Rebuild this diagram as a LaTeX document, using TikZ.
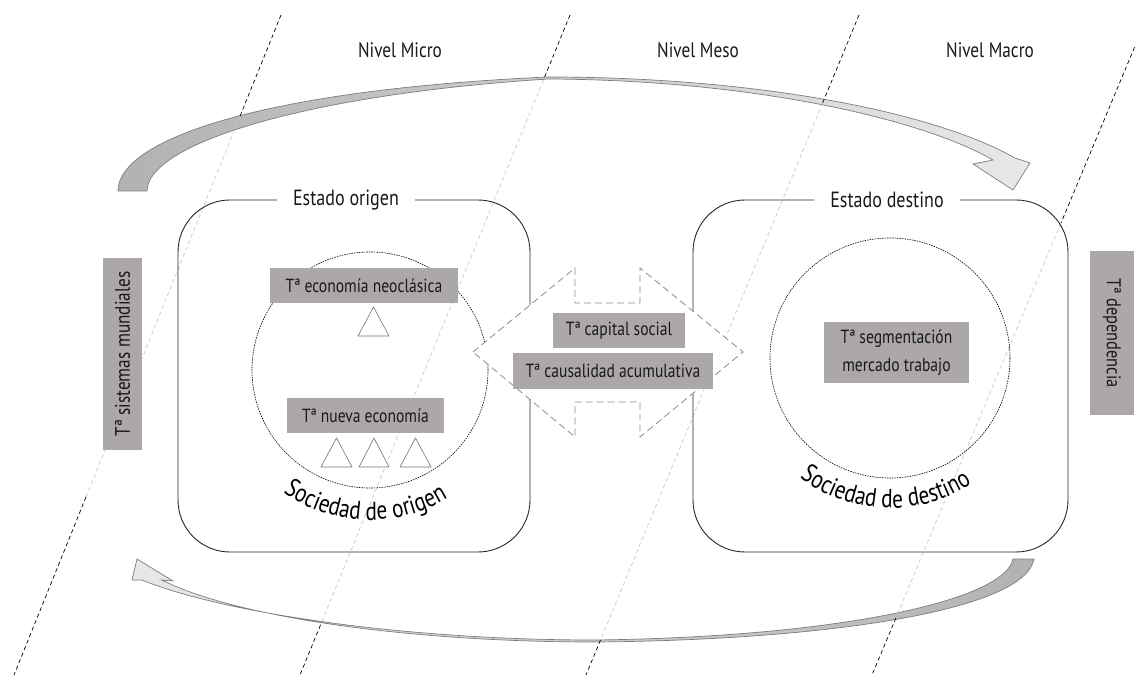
\documentclass[tikz,border=0pt]{standalone}
\usepackage{fontspec}
\setmainfont{PT Sans}[FakeStretch=0.82]
\usetikzlibrary{decorations.text}
\definecolor{labelgray}{RGB}{172,168,167}
\definecolor{arrowline}{RGB}{125,125,125}
\definecolor{arrowdark}{RGB}{178,178,178}
\definecolor{arrowlight}{RGB}{232,232,232}
\definecolor{guidegray}{RGB}{200,200,200}
\begin{document}
\begin{tikzpicture}[x=1pt,y=1pt,
  theory/.style={fill=labelgray, inner sep=0pt, font=\fontsize{19}{28}\selectfont, text=black!90},
  level/.style={font=\fontsize{21}{24}\selectfont, text=black!90},
  statelabel/.style={fill=white, inner xsep=16pt, inner ysep=2pt, font=\fontsize{22}{24}\selectfont, text=black!90},
  frame/.style={draw=black!85, line width=0.9pt, rounded corners=52pt, minimum width=#1, minimum height=352pt, inner sep=0pt},
  society/.style={draw=black, line width=0.6pt, dash pattern=on 1.5pt off 1pt, circle, minimum size=#1, inner sep=0pt},
  guide/.style={line width=0.7pt, dash pattern=on 4pt off 3pt, black},
  guidefaint/.style={line width=0.7pt, dash pattern=on 4pt off 3pt, guidegray},
  flow/.style={draw=arrowline, line width=0.7pt},
  tri/.style={draw=black!55, line width=0.6pt, fill=white},
  bridge/.style={draw=black!45, fill=white, line width=0.8pt, dash pattern=on 7pt off 4pt},
  curvedtext/.style={decorate, decoration={text along path, text align=center, text={|\fontsize{26}{26}\selectfont|#1}}},
]
\useasboundingbox (0,0) rectangle (1135,675);
\begin{scope}
\clip (0,0) rectangle (1135,675);

% curved flows between the two states
\path[flow, left color=arrowdark, right color=arrowlight]
  (118,484) .. controls (118,535) and (260,585) .. (548,598)
  .. controls (750,598) and (930,565) .. (1015,517)
  -- (1030,512) -- (1013,485) -- (973,511) -- (993,515)
  .. controls (920,557) and (750,595) .. (548,596)
  .. controls (300,580) and (147,530) .. (147,484) -- cycle;
\path[flow, left color=arrowlight, right color=arrowdark]
  (1034,116) .. controls (1025,65) and (830,35) .. (595,33)
  .. controls (400,33) and (230,60) .. (162,95)
  -- (173,94) -- (137,116) -- (132,95) -- (142,95)
  .. controls (220,63) and (400,35) .. (595,35)
  .. controls (840,38) and (1005,75) .. (1013,116) -- cycle;

% oblique level dividers
\coordinate (g1t) at (281,660);  \coordinate (g1a) at (239.7,558);
\coordinate (g1b) at (86,178);   \coordinate (g1e) at (14,0);
\coordinate (g2t) at (570,660);  \coordinate (g2a) at (543.4,595);
\coordinate (g2b) at (320.5,50); \coordinate (g2e) at (300,0);
\coordinate (g3t) at (859,660);  \coordinate (g3a) at (822.6,572);
\coordinate (g3b) at (600.5,35); \coordinate (g3e) at (586,0);
\coordinate (g4t) at (1148,660); \coordinate (g4a) at (1061,452);
\coordinate (g4b) at (895.9,57); \coordinate (g4e) at (872,0);
\foreach \g in {g1,g2,g3,g4}{
  \draw[guide] (\g t) -- (\g a);
  \draw[guidefaint] (\g a) -- (\g b);
  \draw[guide] (\g b) -- (\g e);
}
\end{scope}

% level headings
\node[level] (micro) at (400,625) {Nivel Micro};
\node[level] (meso) at (698,625) {Nivel Meso};
\node[level] (macro) at (990,625) {Nivel Macro};

% states
\node[frame=352pt] (origin) at (354,299) {};
\node[frame=375pt] (dest) at (880.5,299) {};
\node[statelabel] (eo) at (346,475) {Estado origen};
\node[statelabel] (ed) at (887,475) {Estado destino};

% societies
\node[society=236pt] (so) at (370,305) {};
\node[society=240pt] (sd) at (890,317) {};

% bridge between societies
\draw[bridge] (473,323) -- (575,407) -- (575,372) -- (640,372) -- (640,407)
  -- (743,323) -- (640,238) -- (640,273) -- (575,273) -- (575,238) -- cycle;

% theories
\node[theory, minimum width=188pt, minimum height=35pt] (neo) at (364,389.5) {Tª economía neoclásica};
\node[theory, minimum width=157pt, minimum height=35pt] (nueva) at (365.5,259.5) {Tª nueva economía};
\node[theory, minimum width=132pt, minimum height=35pt] (capital) at (619,344.5) {Tª capital social};
\node[theory, minimum width=200pt, minimum height=36pt] (causal) at (613,304) {Tª causalidad acumulativa};
\node[theory, minimum width=145pt, minimum height=61pt, align=center] (segm) at (896.5,322.5) {Tª segmentación\\mercado trabajo};
\node[theory, rotate=90, minimum width=192pt, minimum height=39pt, font=\fontsize{21}{24}\selectfont] (wsys) at (122.5,321) {Tª sistemas mundiales};
\node[theory, rotate=-90, minimum width=164pt, minimum height=44pt, font=\fontsize{20}{24}\selectfont] (dep) at (1112,342) {Tª dependencia};

% individual actors
\draw[tri] (358,339) -- (373.5,368) -- (389,339) -- cycle;
\draw[tri] (321,208) -- (336.5,237) -- (352,208) -- cycle;
\draw[tri] (359,208) -- (374,237) -- (389,208) -- cycle;
\draw[tri] (400,208) -- (415.5,237) -- (431,208) -- cycle;

% society names along the circles
\path[curvedtext={Sociedad de origen}] (so.center) ++(210:150) arc[start angle=210, end angle=326, radius=150];
\path[curvedtext={Sociedad de destino}] (sd.center) ++(210:150) arc[start angle=210, end angle=326, radius=150];
\end{tikzpicture}
\end{document}
